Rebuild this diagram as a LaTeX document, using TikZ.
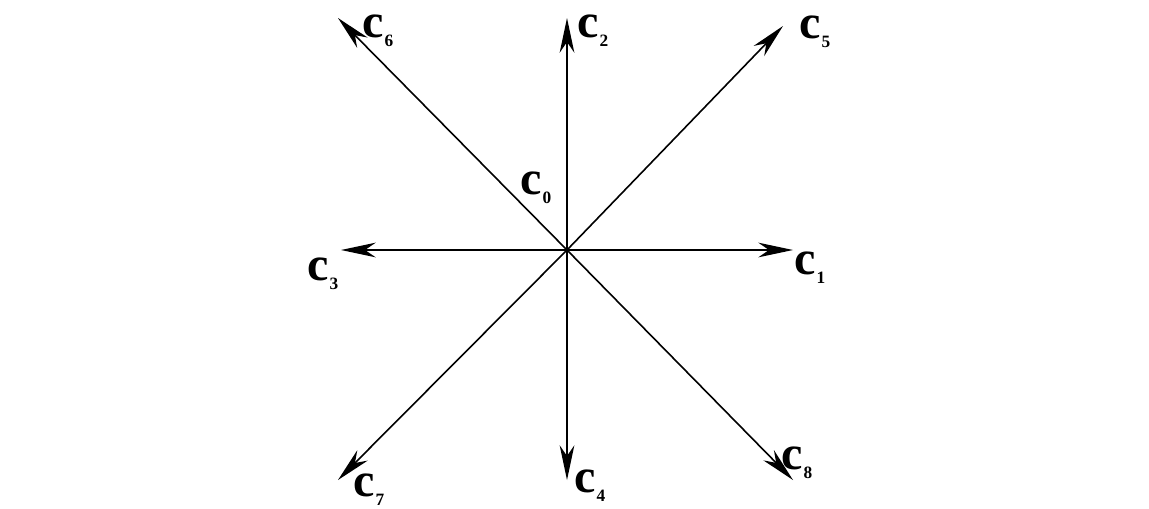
\documentclass[tikz,border=0pt]{standalone}
\usepackage{fontspec}
\setmainfont{Liberation Serif}
\usetikzlibrary{arrows.meta}
\newcommand{\clab}[1]{\textbf{\fontsize{36}{36}\selectfont c\kern0.5pt\raisebox{-7pt}{\fontsize{13}{13}\selectfont #1}}}
\tikzset{
  vec/.style={line width=1.2pt, -{Stealth[length=26pt,width=11pt,inset=8pt]}},
  lab/.style={inner sep=0pt}
}
\begin{document}
\begin{tikzpicture}[x=0.75pt,y=-0.75pt]
\useasboundingbox (0,0) rectangle (1149,508);
\coordinate (o) at (567,250);
\coordinate (e1) at (793,250);
\coordinate (e2) at (567,18);
\coordinate (e3) at (341,250);
\coordinate (e4) at (567,480);
\coordinate (e5) at (783,26);
\coordinate (e6) at (338,18);
\coordinate (e7) at (338,480);
\coordinate (e8) at (793,480);
\foreach \i in {1,...,8} \draw[vec] (o) -- (e\i);
\node[lab] (l0) at (536,188) {\clab{0}};
\node[lab] (l1) at (810,268) {\clab{1}};
\node[lab] (l2) at (593,31) {\clab{2}};
\node[lab] (l3) at (323,274) {\clab{3}};
\node[lab] (l4) at (590,486) {\clab{4}};
\node[lab] (l5) at (815,32) {\clab{5}};
\node[lab] (l6) at (378,31) {\clab{6}};
\node[lab] (l7) at (369,490) {\clab{7}};
\node[lab] (l8) at (797,463) {\clab{8}};
\end{tikzpicture}
\end{document}
